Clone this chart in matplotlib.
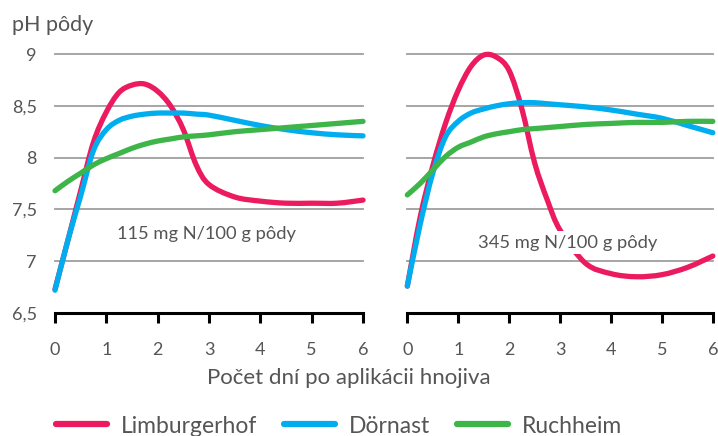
import matplotlib
matplotlib.use("Agg")
import matplotlib.pyplot as plt
from matplotlib.path import Path
from matplotlib.patches import PathPatch
from matplotlib.lines import Line2D
import numpy as np

plt.rcParams['font.family'] = ['Lato', 'DejaVu Sans']

# ---- data ----
days = [0, 0.25, 0.5, 0.75, 1, 1.25, 1.5, 1.75, 2, 2.25, 2.5, 2.75, 3, 3.5, 4, 4.5, 5, 5.5, 6]

left_limburgerhof = [6.73, 7.20, 7.68, 8.15, 8.44, 8.63, 8.70, 8.71, 8.64, 8.50, 8.27, 7.93, 7.74, 7.62, 7.58, 7.56, 7.56, 7.56, 7.59]
left_dornast      = [6.72, 7.20, 7.63, 8.07, 8.27, 8.36, 8.40, 8.42, 8.43, 8.43, 8.43, 8.42, 8.41, 8.36, 8.31, 8.27, 8.24, 8.22, 8.21]
left_ruchheim     = [7.68, 7.77, 7.85, 7.93, 7.99, 8.04, 8.09, 8.13, 8.16, 8.18, 8.20, 8.21, 8.22, 8.25, 8.27, 8.29, 8.31, 8.33, 8.35]

right_limburgerhof = [6.76, 7.42, 7.92, 8.33, 8.65, 8.88, 8.99, 8.97, 8.84, 8.47, 7.95, 7.59, 7.30, 6.98, 6.88, 6.85, 6.87, 6.94, 7.05]
right_dornast      = [6.76, 7.35, 7.85, 8.20, 8.35, 8.43, 8.47, 8.50, 8.52, 8.53, 8.53, 8.52, 8.51, 8.49, 8.46, 8.42, 8.38, 8.31, 8.24]
right_ruchheim     = [7.64, 7.75, 7.88, 8.01, 8.10, 8.15, 8.20, 8.23, 8.25, 8.27, 8.28, 8.29, 8.30, 8.32, 8.33, 8.34, 8.34, 8.35, 8.35]

series_names = ['Limburgerhof', 'Dörnast', 'Ruchheim']
panel_labels = ['115 mg N/100 g pôdy', '345 mg N/100 g pôdy']
y_ticks = [6.5, 7, 7.5, 8, 8.5, 9]
y_ticklabels = ['6,5', '7', '7,5', '8', '8,5', '9']
x_ticks = [0, 1, 2, 3, 4, 5, 6]
y_title = 'pH pôdy'
x_title = 'Počet dní po aplikácii hnojiva'

colors = ['#EC1A5E', '#00AEEF', '#3DB549']
text_color = '#555555'


def smooth_path(xs, ys):
    pts = np.column_stack([xs, ys]).astype(float)
    n = len(pts)
    verts = [pts[0]]
    codes = [Path.MOVETO]
    for i in range(n - 1):
        p0 = pts[i - 1] if i > 0 else pts[i]
        p1 = pts[i]
        p2 = pts[i + 1]
        p3 = pts[i + 2] if i + 2 < n else pts[i + 1]
        c1 = p1 + (p2 - p0) / 6.0
        c2 = p2 - (p3 - p1) / 6.0
        verts += [c1, c2, p2]
        codes += [Path.CURVE4, Path.CURVE4, Path.CURVE4]
    return Path(verts, codes)


fig = plt.figure(figsize=(7.18, 4.36), dpi=100)
ax_l = fig.add_axes([0.0766, 0.2821, 0.4290, 0.594])
ax_r = fig.add_axes([0.5673, 0.2821, 0.4255, 0.594])

panels = [
    (ax_l, [left_limburgerhof, left_dornast, left_ruchheim], panel_labels[0], (2.95, 7.26)),
    (ax_r, [right_limburgerhof, right_dornast, right_ruchheim], panel_labels[1], (3.15, 7.18)),
]

for ax, data, label, pos in panels:
    ax.set_xlim(0, 6)
    ax.set_ylim(6.5, 9)
    for s in ['top', 'right', 'left']:
        ax.spines[s].set_visible(False)
    ax.spines['bottom'].set_linewidth(2.2)
    ax.spines['bottom'].set_color('black')
    ax.set_yticks(y_ticks)
    ax.set_xticks(x_ticks)
    ax.set_xticklabels([str(t) for t in x_ticks])
    ax.tick_params(axis='x', direction='out', length=7, width=2.2, color='black',
                   labelsize=13, labelcolor=text_color, pad=14)
    ax.tick_params(axis='y', length=0, labelsize=13, labelcolor=text_color, pad=13)
    for yt in y_ticks[1:]:
        ax.axhline(yt, color='#9E9E9E', lw=1.3, zorder=1, clip_on=False)
    for vals, c in zip(data, colors):
        patch = PathPatch(smooth_path(days, vals), facecolor='none', edgecolor=c,
                          lw=3.8, capstyle='round', joinstyle='round', zorder=3,
                          transform=ax.transData, clip_on=False)
        ax.add_patch(patch)
    ax.text(pos[0], pos[1], label, ha='center', va='center', fontsize=13.2,
            color=text_color, zorder=5,
            bbox=dict(facecolor='white', edgecolor='none', pad=2.5))

ax_l.set_yticklabels(y_ticklabels)
ax_r.set_yticklabels([])

fig.text(12 / 718, 1 - 25 / 436, y_title, ha='left', va='center', fontsize=15.5, color=text_color)
fig.text(349 / 718, 1 - 378 / 436, x_title, ha='center', va='center', fontsize=16, color=text_color)

handles = [Line2D([0], [0], color=c, lw=4.5, solid_capstyle='round') for c in colors]
fig.legend(handles, series_names, loc='center', bbox_to_anchor=(339 / 718, 1 - 426 / 436),
           ncol=3, frameon=False, fontsize=16.5, handlelength=2.2, handletextpad=0.6,
           columnspacing=1.2, labelcolor=text_color)

fig.savefig('out.png', dpi=100)
